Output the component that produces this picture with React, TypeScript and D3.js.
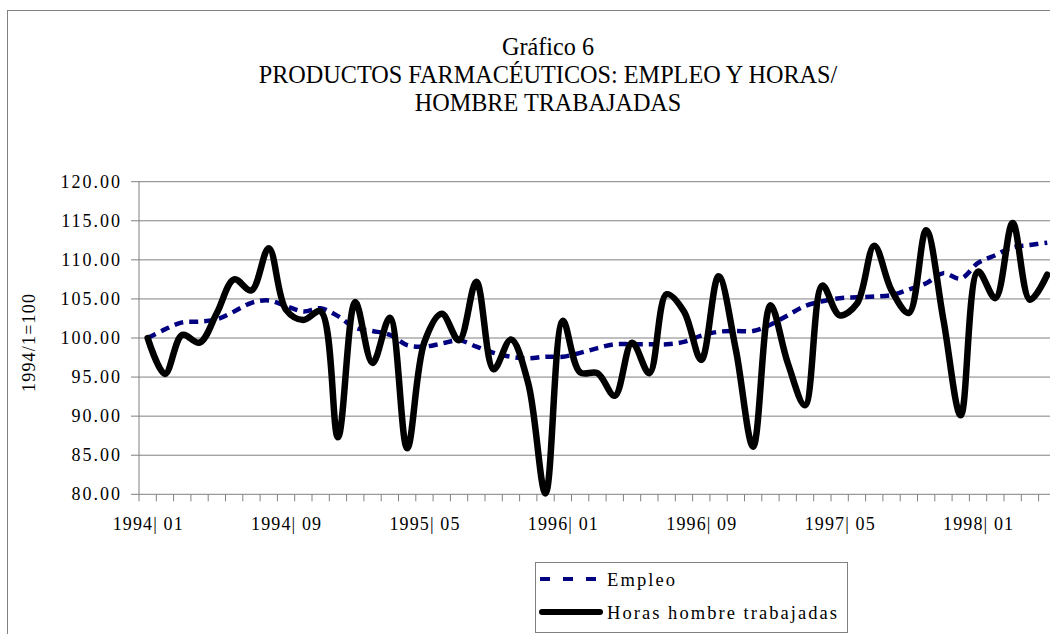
import React from "react";
import * as d3 from "d3";

const categories: string[] = [
  "1994-01","1994-02","1994-03","1994-04","1994-05","1994-06","1994-07","1994-08","1994-09","1994-10","1994-11","1994-12",
  "1995-01","1995-02","1995-03","1995-04","1995-05","1995-06","1995-07","1995-08","1995-09","1995-10","1995-11","1995-12",
  "1996-01","1996-02","1996-03","1996-04","1996-05","1996-06","1996-07","1996-08","1996-09","1996-10","1996-11","1996-12",
  "1997-01","1997-02","1997-03","1997-04","1997-05","1997-06","1997-07","1997-08","1997-09","1997-10","1997-11","1997-12",
  "1998-01","1998-02","1998-03","1998-04","1998-05",
];

const empleo: number[] = [
  100.0, 101.1, 102.0, 102.1, 102.4, 103.4, 104.5, 104.8, 104.1, 103.4, 103.8, 102.8,
  101.3, 100.9, 100.4, 99.1, 98.9, 99.3, 99.7, 98.9, 98.1, 97.6, 97.4, 97.6,
  97.6, 98.1, 98.7, 99.2, 99.2, 99.2, 99.2, 99.5, 100.3, 100.8, 100.9, 100.9,
  101.7, 102.9, 104.1, 104.7, 105.1, 105.2, 105.3, 105.5, 106.2, 107.0, 108.3, 107.6,
  109.6, 110.6, 111.6, 111.9, 112.2,
];

const horas: number[] = [
  100.0, 95.4, 100.4, 99.4, 103.2, 107.5, 106.1, 111.5, 103.6, 102.3, 103.4, 87.3,
  104.6, 96.8, 102.6, 85.9, 99.5, 103.1, 99.7, 107.2, 96.0, 99.8, 94.2, 80.1,
  102.2, 95.6, 95.5, 92.6, 99.4, 95.5, 105.6, 103.4, 97.2, 107.9, 98.5, 86.1,
  104.2, 96.8, 91.4, 106.7, 102.9, 104.4, 111.8, 106.1, 103.2, 113.8, 102.3, 90.1,
  108.5, 105.1, 114.7, 104.9, 108.1,
];

const tickLabels: string[] = ["1994| 01", "1994| 09", "1995| 05", "1996| 01", "1996| 09", "1997| 05", "1998| 01"];
const yTicks: number[] = [80, 85, 90, 95, 100, 105, 110, 115, 120];
const titleLines: string[] = ["Gráfico 6", "PRODUCTOS FARMACÉUTICOS: EMPLEO Y HORAS/", "HOMBRE TRABAJADAS"];
const yAxisTitle = "1994/1=100";
const legendLabels: string[] = ["Empleo", "Horas hombre trabajadas"];

const W = 1050;
const H = 634;
const FONT = "'Liberation Serif', 'Times New Roman', serif";

export default function App() {
  const left = 139;
  const step = 17.3;
  const x = d3
    .scaleBand<string>()
    .domain(categories)
    .range([left, left + step * categories.length])
    .padding(0);
  const cx = (c: string) => (x(c) as number) + x.bandwidth() / 2;
  const y = d3.scaleLinear().domain([80, 120]).range([494.3, 181.7]);

  const line = d3
    .line<number>()
    .x((_, i) => cx(categories[i]))
    .y((d) => y(d))
    .curve(d3.curveCatmullRom.alpha(0.5));

  const tickXs = categories.map((c) => x(c) as number);
  const labelCats = tickLabels.map((_, k) => categories[k * 8]);
  const titleBase = [55, 83, 111];
  const titleCx = 548;

  return (
    <div style={{ position: "absolute", left: 0, top: 0, width: W, height: H, overflow: "hidden", background: "#fff" }}>
      <svg width={W} height={H} style={{ display: "block", fontFamily: FONT }}>
        <rect x={0} y={0} width={W} height={H} fill="#fff" />
        {/* outer chart frame (continues past the picture) */}
        <rect x={7.5} y={10.5} width={1200} height={800} fill="none" stroke="#808080" strokeWidth={1} />

        {/* title */}
        <g transform={`translate(${titleCx},0) scale(0.95,1)`}>
          {titleLines.map((t, i) => (
            <text key={t} x={0} y={titleBase[i]} textAnchor="middle" fontSize={25.5} fill="#000">
              {t}
            </text>
          ))}
        </g>

        {/* gridlines */}
        {yTicks.map((v) => (
          <line key={v} x1={left - 8} x2={W + 10} y1={y(v)} y2={y(v)} stroke="#808080" strokeWidth={1} />
        ))}
        {/* y axis */}
        <line x1={left} x2={left} y1={y(120)} y2={y(80)} stroke="#808080" strokeWidth={1} />
        {/* x ticks */}
        {tickXs.map((tx, i) => (
          <line key={i} x1={tx} x2={tx} y1={y(80)} y2={y(80) + 7} stroke="#808080" strokeWidth={1} />
        ))}

        {/* y tick labels */}
        {yTicks.map((v) => (
          <text key={v} x={122} y={y(v) + 6} textAnchor="end" fontSize={18} fill="#000" letterSpacing={2}>
            {v.toFixed(2)}
          </text>
        ))}

        {/* x tick labels */}
        {tickLabels.map((t, k) => (
          <text
            key={t}
            x={cx(labelCats[k])}
            y={530}
            textAnchor="middle"
            fontSize={18}
            fill="#000"
            textLength={70}
            lengthAdjust="spacing"
          >
            {t}
          </text>
        ))}

        {/* y axis title */}
        <text
          transform={`translate(35,343) rotate(-90)`}
          textAnchor="middle"
          fontSize={18}
          fill="#000"
          textLength={98}
          lengthAdjust="spacing"
        >
          {yAxisTitle}
        </text>

        {/* series */}
        <path d={line(empleo) || ""} fill="none" stroke="#000080" strokeWidth={4.5} strokeDasharray="9,6" />
        <path d={line(horas) || ""} fill="none" stroke="#000" strokeWidth={6.5} strokeLinejoin="round" strokeLinecap="round" />

        {/* legend */}
        <rect x={535.5} y={562.5} width={312} height={70} fill="#fff" stroke="#808080" strokeWidth={1} />
        <line x1={540} x2={598} y1={579} y2={579} stroke="#000080" strokeWidth={4} strokeDasharray="10,13" />
        <text x={607} y={586} fontSize={18.5} fill="#000" textLength={68} lengthAdjust="spacing">
          {legendLabels[0]}
        </text>
        <line x1={542} x2={600} y1={612} y2={612} stroke="#000" strokeWidth={6} strokeLinecap="round" />
        <text x={607} y={619} fontSize={18.5} fill="#000" textLength={230} lengthAdjust="spacing">
          {legendLabels[1]}
        </text>
      </svg>
    </div>
  );
}
